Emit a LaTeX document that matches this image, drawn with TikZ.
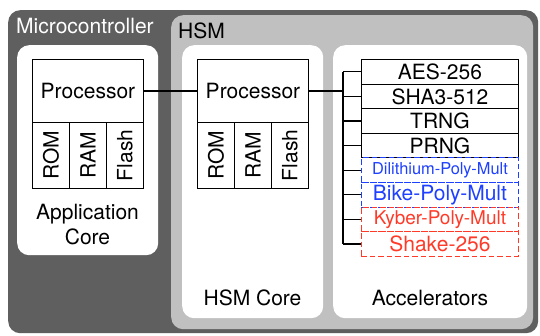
\documentclass[tikz,border=0pt]{standalone}
\usepackage{fontspec}
\setmainfont{TeX Gyre Heros}
\usepackage{graphicx}
\definecolor{darkbg}{RGB}{95,95,95}
\definecolor{hsmbg}{RGB}{192,192,192}
\definecolor{pqblue}{RGB}{30,64,255}
\definecolor{pqred}{RGB}{255,58,40}
\begin{document}
\begin{tikzpicture}[x=1pt,y=-1pt,
  txt/.style={font=\fontsize{21}{25}\selectfont},
  panel/.style={fill=white,draw=none,rounded corners=12pt,inner sep=0pt,anchor=north west},
  cell/.style={draw=black,line width=0.9pt,fill=white,inner sep=0pt,anchor=north west,txt},
  acc/.style={cell,minimum width=157pt,minimum height=24.6pt},
  bluebox/.style={acc,draw=pqblue,dashed,dash pattern=on 5.5pt off 3pt,fill=none,text=pqblue},
  redbox/.style={acc,draw=pqred,dashed,dash pattern=on 5.5pt off 3pt,fill=none,text=pqred},
  wire/.style={draw=black,line width=1.1pt}]
\useasboundingbox (0,0) rectangle (540,335);
\fill[white] (0,0) rectangle (540,335);
% outer boxes
\node[panel,fill=darkbg,minimum width=530pt,minimum height=323pt] (mcu) at (8,10) {};
\node[panel,fill=hsmbg,minimum width=362pt,minimum height=314pt] (hsm) at (171,15) {};
\node[txt,text=white,anchor=west,inner sep=0pt] (mcut) at (16,26) {Microcontroller};
\node[txt,anchor=west,inner sep=0pt] (hsmt) at (178,31) {HSM};
% panels
\node[panel,minimum width=141pt,minimum height=210pt] (app) at (17,45) {};
\node[panel,minimum width=141pt,minimum height=273pt] (hcore) at (182,45) {};
\node[panel,minimum width=194pt,minimum height=273pt] (accp) at (333,45) {};
% application core
\node[cell,minimum width=111pt,minimum height=63pt] (aproc) at (32,59) {Processor};
\node[cell,minimum width=37pt,minimum height=66pt] (arom) at (32,122) {\rotatebox{90}{ROM}};
\node[cell,minimum width=37pt,minimum height=66pt] (aram) at (69,122) {\rotatebox{90}{RAM}};
\node[cell,minimum width=37pt,minimum height=66pt] (aflash) at (106,122) {\rotatebox{90}{Flash}};
\node[txt,align=center,inner sep=0pt] (appt) at (87.5,225) {Application\\Core};
% HSM core
\node[cell,minimum width=111pt,minimum height=63pt] (hproc) at (197,59) {Processor};
\node[cell,minimum width=37pt,minimum height=66pt] (hrom) at (197,122) {\rotatebox{90}{ROM}};
\node[cell,minimum width=37pt,minimum height=66pt] (hram) at (234,122) {\rotatebox{90}{RAM}};
\node[cell,minimum width=37pt,minimum height=66pt] (hflash) at (271,122) {\rotatebox{90}{Flash}};
\node[txt,inner sep=0pt] (hcoret) at (252.5,298) {HSM Core};
% accelerators
\node[acc] (aes) at (361,59) {AES-256};
\node[acc] (sha) at (361,83.6) {SHA3-512};
\node[acc] (trng) at (361,108.2) {TRNG};
\node[acc] (prng) at (361,132.8) {PRNG};
\node[bluebox,font=\fontsize{16.4}{20}\selectfont] (dil) at (361,157.4) {Dilithium-Poly-Mult};
\node[bluebox] (bike) at (361,182) {Bike-Poly-Mult};
\node[redbox,font=\fontsize{19}{22}\selectfont] (kyber) at (361,206.6) {Kyber-Poly-Mult};
\node[redbox] (shake) at (361,231.2) {Shake-256};
\node[txt,inner sep=0pt] (acct) at (430,298) {Accelerators};
% wires
\coordinate (bus) at (343,0);
\draw[wire] (aproc.east) -- (hproc.west);
\draw[wire] (hproc.east) -- (hproc.east -| bus);
\draw[wire] (bus |- aes.west) -- (bus |- shake.west);
\foreach \n in {aes,sha,trng,prng,dil,bike,kyber,shake}
  \draw[wire] (bus |- \n.west) -- (\n.west);
\end{tikzpicture}
\end{document}
